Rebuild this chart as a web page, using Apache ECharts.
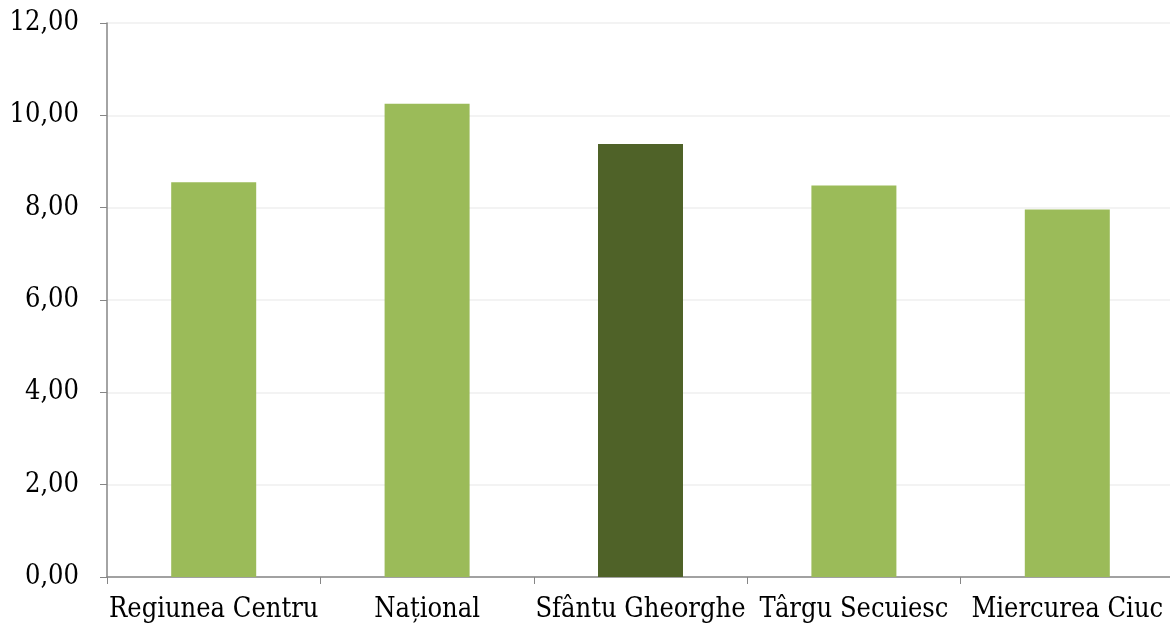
<!DOCTYPE html>
<html><head><meta charset="utf-8">
<script src="https://cdn.jsdelivr.net/npm/echarts@6/dist/echarts.min.js"></script>
<style>html,body{margin:0;padding:0;background:#fff;overflow:hidden}#c{width:1180px;height:630px}</style>
</head><body><div id="c"></div>
<script>
const categories = ["Regiunea Centru", "Național", "Sfântu Gheorghe", "Târgu Secuiesc", "Miercurea Ciuc"];
const values = [8.55, 10.25, 9.38, 8.48, 7.96];
const highlightIndex = 2;
const font = "DejaVu Serif Condensed, DejaVu Serif";
const chart = echarts.init(document.getElementById('c'));
chart.setOption({
  animation: false,
  grid: {left: 107, top: 23, width: 1067, height: 554, containLabel: false},
  xAxis: {
    type: 'category', data: categories,
    axisLine: {lineStyle: {color: '#868686', width: 1.5}},
    axisTick: {show: true, length: 7, alignWithLabel: false, lineStyle: {color: '#868686'}},
    axisLabel: {color: '#000', fontFamily: font, fontSize: 27, margin: 19, interval: 0}
  },
  yAxis: {
    type: 'value', min: 0, max: 12, interval: 2,
    axisLine: {show: true, lineStyle: {color: '#868686', width: 1.5}},
    axisTick: {show: true, length: 7, lineStyle: {color: '#868686'}},
    splitLine: {lineStyle: {color: '#efefef', width: 1.5}},
    axisLabel: {color: '#000', fontFamily: font, fontSize: 27, margin: 28,
      formatter: v => v.toFixed(2).replace('.', ',')}
  },
  series: [{
    type: 'bar', barWidth: 85,
    data: values.map((v, i) => ({value: v, itemStyle: {color: i === highlightIndex ? '#4f6228' : '#9bbb59'}}))
  }]
});
</script></body></html>
